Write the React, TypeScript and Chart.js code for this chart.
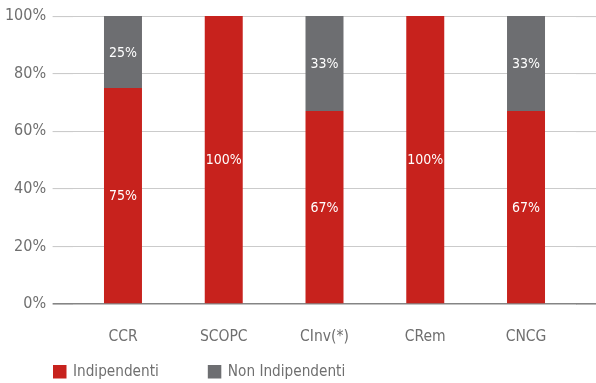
import React, { useEffect, useRef } from "react";
import { Chart, registerables } from "chart.js";

Chart.register(...registerables);

const categories = ["CCR", "SCOPC", "CInv(*)", "CRem", "CNCG"];
const indipendenti = [75, 100, 67, 100, 67];
const nonIndipendenti = [25, 0, 33, 0, 33];
const seriesNames = ["Indipendenti", "Non Indipendenti"];
const yTicks = [0, 20, 40, 60, 80, 100];

const FONT = "'DejaVu Sans Condensed', 'DejaVu Sans', sans-serif";
const RED = "#c7221d";
const GRAY = "#6d6e71";
const TEXT = "#6f6f6f";

const gridColor = (ctx: any) => (ctx.tick && ctx.tick.value === 0 ? "#858585" : "#cbcbcb");
const gridWidth = (ctx: any) => (ctx.tick && ctx.tick.value === 0 ? 1.6 : 1.1);

const valueLabels = {
  id: "valueLabels",
  afterDatasetsDraw(chart: any) {
    const { ctx } = chart;
    ctx.save();
    ctx.fillStyle = "#ffffff";
    ctx.font = `14px ${FONT}`;
    ctx.textAlign = "center";
    ctx.textBaseline = "middle";
    chart.data.datasets.forEach((ds: any, i: number) => {
      const meta = chart.getDatasetMeta(i);
      meta.data.forEach((el: any, j: number) => {
        const v = ds.data[j];
        if (!v) return;
        const y = (el.y + el.base) / 2;
        ctx.fillText(v + "%", el.x, y + 1);
      });
    });
    ctx.restore();
  },
};

const customLegend = {
  id: "customLegend",
  afterDraw(chart: any) {
    const { ctx } = chart;
    ctx.save();
    ctx.font = `15.2px ${FONT}`;
    ctx.textBaseline = "middle";
    ctx.textAlign = "left";
    let x = 53;
    const yMid = 371.5;
    chart.data.datasets.forEach((ds: any) => {
      ctx.fillStyle = ds.backgroundColor;
      ctx.fillRect(x, yMid - 6.5, 13.5, 13.5);
      ctx.fillStyle = TEXT;
      ctx.fillText(ds.label, x + 20, yMid + 1);
      const w = ctx.measureText(ds.label).width;
      x = x + 20 + w + 49;
    });
    ctx.restore();
  },
};

export default function App() {
  const ref = useRef<HTMLCanvasElement | null>(null);
  useEffect(() => {
    if (!ref.current) return;
    const chart = new Chart(ref.current, {
      type: "bar",
      data: {
        labels: categories,
        datasets: [
          {
            label: seriesNames[0],
            data: indipendenti,
            backgroundColor: RED,
            categoryPercentage: 1,
            barPercentage: 0.377,
          },
          {
            label: seriesNames[1],
            data: nonIndipendenti,
            backgroundColor: GRAY,
            categoryPercentage: 1,
            barPercentage: 0.377,
          },
        ],
      },
      options: {
        responsive: false,
        animation: false,
        layout: { padding: { top: 14, bottom: 12.4, left: 0, right: 0 } },
        plugins: {
          legend: { display: false },
          tooltip: { enabled: false },
        },
        scales: {
          x: {
            stacked: true,
            grid: { display: false, drawTicks: false },
            border: { display: false },
            ticks: {
              padding: 24,
              color: TEXT,
              font: { family: FONT, size: 15.5 },
            },
          },
          y: {
            stacked: true,
            min: 0,
            max: 100,
            afterBuildTicks: (scale: any) => {
              scale.ticks = yTicks.map((v) => ({ value: v }));
            },
            afterFit: (scale: any) => {
              scale.width = 72.6;
            },
            border: { display: false },
            grid: {
              color: gridColor,
              lineWidth: gridWidth,
              drawTicks: true,
              tickLength: 20,
            },
            ticks: {
              padding: 6.5,
              color: TEXT,
              font: { family: FONT, size: 16 },
              callback: (v: any) => v + "%",
            },
          },
          yR: {
            position: "right",
            min: 0,
            max: 100,
            afterBuildTicks: (scale: any) => {
              scale.ticks = yTicks.map((v) => ({ value: v }));
            },
            afterFit: (scale: any) => {
              scale.width = 19.6;
            },
            border: { display: false },
            grid: {
              color: gridColor,
              lineWidth: gridWidth,
              drawOnChartArea: false,
              drawTicks: true,
              tickLength: 19.6,
            },
            ticks: { display: false },
          },
        },
      },
      plugins: [valueLabels, customLegend],
    });
    return () => chart.destroy();
  }, []);
  return (
    <div style={{ position: "absolute", left: 0, top: 0, width: 596, height: 383, background: "#fff" }}>
      <canvas ref={ref} width={596} height={383} />
    </div>
  );
}
